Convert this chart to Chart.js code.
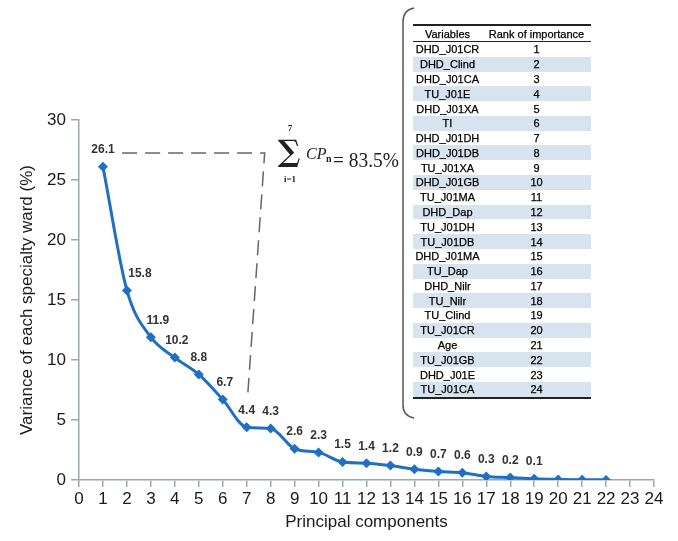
<!DOCTYPE html>
<html lang="en">
<head>
    <meta charset="utf-8">
    <title>Principal components</title>
    <script src="https://cdn.jsdelivr.net/npm/chart.js@4.4.1/dist/chart.umd.min.js"></script>
    <style>
        body { margin: 0; background: #fff; }
        #wrap { position: relative; width: 678px; height: 541px; }
        #rank {
            position: absolute; left: 413px; top: 24px; width: 178px;
            border-collapse: collapse; table-layout: fixed;
            font: 11px "Liberation Sans", Arial, sans-serif; color: #000;
            -webkit-text-stroke: 0.25px #000;
            border-top: 2px solid #222; border-bottom: 2px solid #222;
        }
        #rank th, #rank td { padding: 0; text-align: center; white-space: nowrap; line-height: 14px; }
        #rank th { font-weight: normal; height: 15px; border-bottom: 1.5px solid #222; }
        #rank td { height: 14.79px; }
        #rank tr.alt td { background: #d7e3ee; }
    </style>
</head>
<body>
<div id="wrap">
    <canvas id="myChart"></canvas>
    <table id="rank">
        <colgroup><col style="width:69px"><col style="width:109px"></colgroup>
        <thead><tr><th>Variables</th><th>Rank of importance</th></tr></thead>
        <tbody></tbody>
    </table>
</div>

<script>
    // data
    var components = [1, 2, 3, 4, 5, 6, 7, 8, 9, 10, 11, 12, 13, 14, 15, 16, 17, 18, 19, 20, 21, 22];
    var variance = [26.1, 15.8, 11.9, 10.2, 8.8, 6.7, 4.4, 4.3, 2.6, 2.3, 1.5, 1.4, 1.2, 0.9, 0.7, 0.6, 0.3, 0.2, 0.1, 0.05, 0.02, 0.01];
    var valueLabels = ['26.1', '15.8', '11.9', '10.2', '8.8', '6.7', '4.4', '4.3', '2.6', '2.3', '1.5', '1.4', '1.2', '0.9', '0.7', '0.6', '0.3', '0.2', '0.1'];
    var variables = ['DHD_J01CR', 'DHD_Clind', 'DHD_J01CA', 'TU_J01E', 'DHD_J01XA', 'TI', 'DHD_J01DH', 'DHD_J01DB',
        'TU_J01XA', 'DHD_J01GB', 'TU_J01MA', 'DHD_Dap', 'TU_J01DH', 'TU_J01DB', 'DHD_J01MA', 'TU_Dap',
        'DHD_Nilr', 'TU_Nilr', 'TU_Clind', 'TU_J01CR', 'Age', 'TU_J01GB', 'DHD_J01E', 'TU_J01CA'];
    var ranks = [1, 2, 3, 4, 5, 6, 7, 8, 9, 10, 11, 12, 13, 14, 15, 16, 17, 18, 19, 20, 21, 22, 23, 24];

    // table
    var tbody = document.querySelector('#rank tbody');
    variables.forEach(function (v, i) {
        var tr = document.createElement('tr');
        if (i % 2 === 1) tr.className = 'alt';
        tr.innerHTML = '<td>' + v + '</td><td>' + ranks[i] + '</td>';
        tbody.appendChild(tr);
    });

    var FONT = '"Liberation Sans", Arial, sans-serif';
    var axisColor = '#9ea7b1';

    // value labels above points (x nudges for the steep part)
    var labelShift = [0, 13, 7, 2, 0, 2, 0, 0, 0, 0, 0, 0, 0, 0, 0, 0, 0, 0, 0];
    var pointLabels = {
        id: 'pointLabels',
        afterDatasetsDraw: function (chart) {
            var ctx = chart.ctx;
            var pts = chart.getDatasetMeta(0).data;
            ctx.save();
            ctx.font = 'bold 12px ' + FONT;
            ctx.fillStyle = '#333';
            ctx.textAlign = 'center';
            ctx.textBaseline = 'middle';
            valueLabels.forEach(function (t, i) {
                ctx.fillText(t, pts[i].x + labelShift[i], pts[i].y - 17);
            });
            ctx.restore();
        }
    };

    // dashed guide, sum formula and brace
    var extras = {
        id: 'extras',
        afterDraw: function (chart) {
            var ctx = chart.ctx;
            var xs = chart.scales.x, ys = chart.scales.y;
            ctx.save();
            ctx.strokeStyle = '#666';
            ctx.lineWidth = 1.5;
            ctx.setLineDash([15, 8]);
            ctx.beginPath();
            ctx.moveTo(xs.getPixelForValue(1.8), ys.getPixelForValue(27.25));
            ctx.lineTo(xs.getPixelForValue(7.75), ys.getPixelForValue(27.25));
            ctx.lineTo(xs.getPixelForValue(7.05), ys.getPixelForValue(7.3));
            ctx.stroke();
            ctx.setLineDash([]);

            // formula
            ctx.fillStyle = '#222';
            ctx.textAlign = 'center';
            ctx.textBaseline = 'alphabetic';
            ctx.font = 'bold 30px "DejaVu Serif", serif';
            ctx.fillText('\u2211', 289, 161, 28);
            ctx.font = 'bold 9px "Liberation Serif", serif';
            ctx.fillText('7', 290, 131);
            ctx.fillText('i=1', 290, 182);
            ctx.textAlign = 'left';
            ctx.font = 'italic 16px "Liberation Serif", serif';
            ctx.fillText('CP', 306, 159);
            ctx.font = 'bold 10px "Liberation Serif", serif';
            ctx.fillText('n', 326, 162);
            ctx.font = '22px "Liberation Serif", serif';
            ctx.fillText('= 83.5%', 333, 167, 66);

            // brace
            ctx.strokeStyle = '#555';
            ctx.lineWidth = 1.5;
            ctx.beginPath();
            ctx.moveTo(414, 8);
            ctx.quadraticCurveTo(403, 10, 403, 22);
            ctx.lineTo(403, 405);
            ctx.quadraticCurveTo(403, 416, 414, 418);
            ctx.stroke();
            ctx.restore();
        }
    };

    var ctx = document.getElementById('myChart');
    var myChart = new Chart(ctx, {
        type: 'line',
        data: {
            datasets: [{
                data: components.map(function (c, i) { return {x: c, y: variance[i]}; }),
                borderColor: '#1f6fc5',
                backgroundColor: '#1f6fc5',
                borderWidth: 3,
                cubicInterpolationMode: 'monotone',
                pointStyle: 'rectRot',
                pointRadius: 5,
                pointHoverRadius: 5,
                pointBorderWidth: 0
            }]
        },
        options: {
            responsive: true,
            maintainAspectRatio: false,
            animation: false,
            layout: {padding: {top: 120, right: 24, left: 0, bottom: 0}},
            plugins: {legend: {display: false}, tooltip: {enabled: false}},
            scales: {
                x: {
                    type: 'linear', min: 0, max: 24,
                    afterFit: function (s) { s.height = 61; },
                    grid: {drawOnChartArea: false, drawTicks: true, tickLength: 7, color: axisColor, lineWidth: 1.5},
                    border: {color: axisColor, width: 1.5},
                    ticks: {stepSize: 1, autoSkip: false, maxRotation: 0, padding: 2, color: '#1a1a1a', font: {family: FONT, size: 17}},
                    title: {display: true, text: 'Principal components', color: '#1a1a1a', padding: {top: 0, bottom: 8}, font: {family: FONT, size: 17}}
                },
                y: {
                    min: 0, max: 30,
                    afterFit: function (s) { s.width = 79; },
                    grid: {drawOnChartArea: false, drawTicks: true, tickLength: 8, color: axisColor, lineWidth: 1.5},
                    border: {color: axisColor, width: 1.5},
                    ticks: {stepSize: 5, padding: 5, color: '#1a1a1a', font: {family: FONT, size: 17}},
                    title: {display: true, text: 'Variance of each specialty ward (%)', color: '#1a1a1a', padding: {top: 17, bottom: 0}, font: {family: FONT, size: 17}}
                }
            }
        },
        plugins: [pointLabels, extras]
    });
</script>
</body>
</html>
